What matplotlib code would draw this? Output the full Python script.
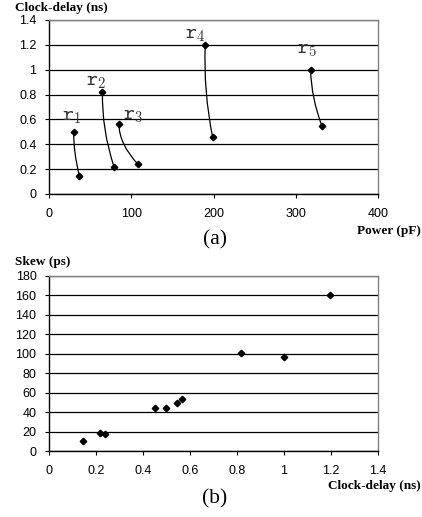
import matplotlib
matplotlib.use("Agg")
import matplotlib.pyplot as plt
from matplotlib.path import Path
from matplotlib.patches import PathPatch
import numpy as np

plt.rcParams['mathtext.fontset'] = 'cm'

# ---- data (a): power (pF) vs clock-delay (ns) for r1..r5 ----
names = ['1', '2', '3', '4', '5']
start_power = [30, 65, 85, 190, 318]
start_delay = [0.50, 0.82, 0.56, 1.20, 1.00]
mid_power = [31.6, 68, 91, 191, 322]
mid_delay = [0.33, 0.52, 0.40, 0.83, 0.77]
end_power = [37, 79, 108, 199, 332]
end_delay = [0.145, 0.22, 0.24, 0.455, 0.545]
label_power = [15.5, 45, 90, 165, 301]
label_delay = [0.595, 0.877, 0.603, 1.255, 1.134]

# ---- data (b): clock-delay (ns) vs skew (ps) ----
cd = [0.143, 0.217, 0.237, 0.451, 0.498, 0.543, 0.565, 0.816, 0.999, 1.196]
skew = [10, 19, 17.5, 44.5, 44.5, 49.5, 53, 101, 97, 160]

W, H = 422, 517
fig = plt.figure(figsize=(W / 100, H / 100), dpi=100)

def px(x, y):
    return x / W, 1 - y / H

def style(ax):
    ax.spines['left'].set_color('black')
    ax.spines['bottom'].set_color('black')
    ax.spines['top'].set_color('#808080')
    ax.spines['right'].set_color('#808080')
    for s in ax.spines.values():
        s.set_linewidth(1.0)
    ax.tick_params(axis='both', direction='out', length=3, width=0.8,
                   labelsize=9, colors='black')
    ax.tick_params(axis='x', pad=7)
    ax.tick_params(axis='y', pad=6)
    ax.tick_params(top=False, right=False)
    ax.yaxis.grid(True, color='black', linewidth=0.9)
    ax.set_axisbelow(True)
    for lab in ax.get_xticklabels() + ax.get_yticklabels():
        lab.set_fontfamily('Liberation Sans')

# ---- top axes ----
ax1 = fig.add_axes([49 / W, 1 - 194 / H, (378 - 49) / W, (194 - 20) / H])
ax1.set_xlim(0, 400)
ax1.set_ylim(0, 1.4)
ax1.set_xticks([0, 100, 200, 300, 400])
ax1.set_yticks([0, 0.2, 0.4, 0.6, 0.8, 1.0, 1.2, 1.4])
ax1.set_yticklabels(['0', '0.2', '0.4', '0.6', '0.8', '1', '1.2', '1.4'])
style(ax1)

for i in range(len(names)):
    p0 = np.array([start_power[i], start_delay[i]])
    m = np.array([mid_power[i], mid_delay[i]])
    p2 = np.array([end_power[i], end_delay[i]])
    c = 2 * m - (p0 + p2) / 2
    path = Path([p0, c, p2], [Path.MOVETO, Path.CURVE3, Path.CURVE3])
    ax1.add_patch(PathPatch(path, facecolor='none', edgecolor='black',
                            linewidth=0.9, zorder=3))
    ax1.plot([start_power[i], end_power[i]], [start_delay[i], end_delay[i]],
             linestyle='none', marker='D', markersize=3.3, color='black',
             zorder=4, clip_on=False)
    ax1.text(label_power[i], label_delay[i],
             r'$\mathtt{r}_{\mathtt{' + names[i] + '}}$',
             fontsize=15, ha='left', va='baseline', zorder=5,
             color='#333333')

# ---- bottom axes ----
ax2 = fig.add_axes([49 / W, 1 - 451 / H, (378 - 49) / W, (451 - 276) / H])
ax2.set_xlim(0, 1.4)
ax2.set_ylim(0, 180)
ax2.set_xticks([0, 0.2, 0.4, 0.6, 0.8, 1.0, 1.2, 1.4])
ax2.set_xticklabels(['0', '0.2', '0.4', '0.6', '0.8', '1', '1.2', '1.4'])
ax2.set_yticks(range(0, 181, 20))
style(ax2)
ax2.plot(cd, skew, linestyle='none', marker='D', markersize=3.3,
         color='black', zorder=4)

serif = 'Liberation Serif'
fig.text(*px(15, 8), 'Clock-delay (ns)', fontfamily=serif, fontweight='bold',
         fontsize=9.5, ha='left', va='center')
fig.text(*px(421, 231), 'Power (pF)', fontfamily=serif, fontweight='bold',
         fontsize=9.5, ha='right', va='center')
fig.text(*px(215, 240), '(a)', fontfamily=serif, fontsize=15.5,
         ha='center', va='center')
fig.text(*px(15, 262), 'Skew (ps)', fontfamily=serif, fontweight='bold',
         fontsize=9.5, ha='left', va='center')
fig.text(*px(421, 486), 'Clock-delay (ns)', fontfamily=serif, fontweight='bold',
         fontsize=9.5, ha='right', va='center')
fig.text(*px(215, 499), '(b)', fontfamily=serif, fontsize=15.5,
         ha='center', va='center')

fig.savefig('out.png', dpi=100)
